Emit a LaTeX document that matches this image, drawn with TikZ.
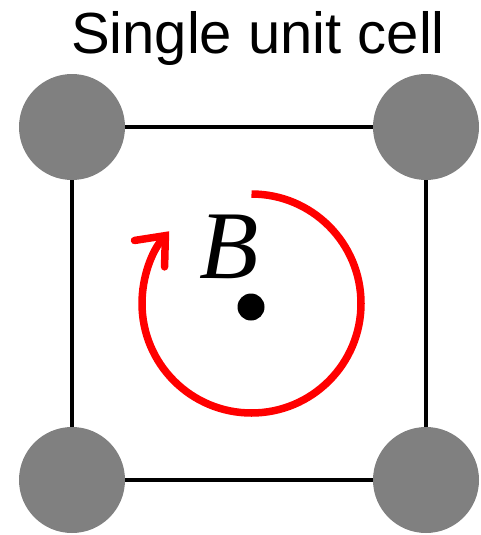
\documentclass[tikz,border=0pt]{standalone}
\usepackage{fontspec}
\setmainfont{Liberation Serif}
\newfontfamily\titlefont{Liberation Sans}
\usetikzlibrary{arrows.meta,calc}
\begin{document}
\begin{tikzpicture}[x=1pt,y=1pt,
  atom/.style={circle,fill={rgb,255:red,128;green,128;blue,128},minimum size=106pt,inner sep=0pt,draw=none},
  cellline/.style={line width=3.2pt,black},
  rot/.style={line width=7.5pt,color={rgb,255:red,255;green,0;blue,0},
    -{Straight Barb[length=24pt,width=40pt,line cap=round]}}]
\useasboundingbox (0,0) rectangle (481,-535);
\node[font=\titlefont\fontsize{58}{62}\selectfont,anchor=base] (title) at (258,-54) {Single unit cell};
\coordinate (tl) at (72,-127);
\coordinate (tr) at (426,-127);
\coordinate (bl) at (72,-480);
\coordinate (br) at (426,-480);
\draw[cellline] (tl) -- (tr) -- (br) -- (bl) -- cycle;
\node[atom] (a1) at (tl) {};
\node[atom] (a2) at (tr) {};
\node[atom] (a3) at (bl) {};
\node[atom] (a4) at (br) {};
\coordinate (C) at (251.5,-303.5);
\draw[rot] ($(C)+(90:109.5)$) arc[start angle=90,end angle=-221.3,radius=109.5];
\fill[black] (251,-307) circle[radius=13.5];
\node[font=\itshape\fontsize{97}{100}\selectfont,anchor=base west,inner sep=0pt] (B) at (199,-278) {B};
\end{tikzpicture}
\end{document}
